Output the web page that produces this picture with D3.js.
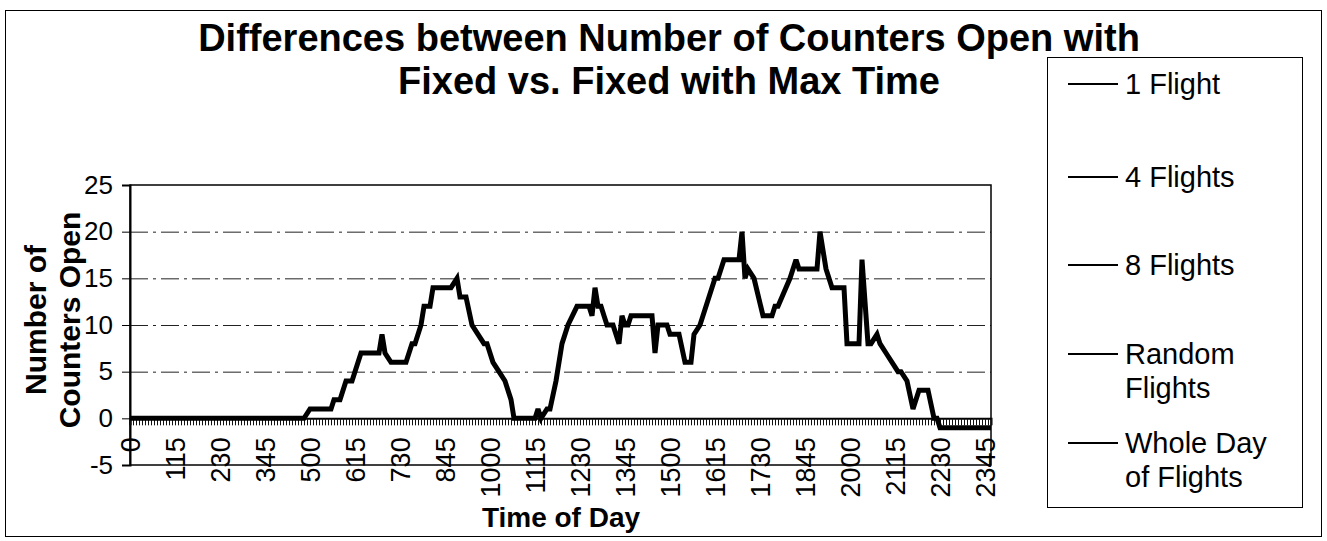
<!DOCTYPE html>
<html>
<head>
<meta charset="utf-8">
<script src="https://cdn.jsdelivr.net/npm/d3@7"></script>
<style>
  html, body { margin: 0; padding: 0; background: #fff; }
  svg { display: block; font-family: Arial, 'Liberation Sans', sans-serif; }
</style>
</head>
<body>
<svg id="chart"></svg>
<script>
// every 5 minutes of the day, written as h*100+m (0, 5, ... 2355)
const categories = d3.range(0, 1440, 5).map(m => Math.floor(m / 60) * 100 + m % 60);

const tickLabels = [0, 115, 230, 345, 500, 615, 730, 845, 1000, 1115, 1230,
  1345, 1500, 1615, 1730, 1845, 2000, 2115, 2230, 2345];

const yTicks = [-5, 0, 5, 10, 15, 20, 25];

// vertices of the plotted line
const lineTimes = [0, 450, 500, 535, 540, 550, 600, 610, 625, 655, 700, 705, 715,
  740, 750, 755, 805, 810, 820, 825, 855, 905, 910, 920, 930, 940, 950, 955,
  1005, 1015, 1025, 1035, 1040, 1115, 1120, 1125, 1135, 1140, 1150, 1200, 1210,
  1225, 1245, 1250, 1255, 1300, 1305, 1310, 1315, 1325, 1335, 1340, 1345, 1350,
  1355, 1430, 1435, 1440, 1455, 1500, 1515, 1525, 1535, 1540, 1550, 1615, 1620,
  1630, 1655, 1700, 1705, 1710, 1720, 1735, 1750, 1755, 1800, 1820, 1830, 1835,
  1905, 1910, 1915, 1920, 1925, 1930, 1950, 1955, 2015, 2020, 2030, 2035, 2045,
  2050, 2100, 2120, 2125, 2135, 2145, 2155, 2210, 2220, 2225, 2230, 2355];

const lineValues = [0, 0, 1, 1, 2, 2, 4, 4, 7, 7, 9, 7, 6,
  6, 8, 8, 10, 12, 12, 14, 14, 15, 13, 13, 10, 9, 8, 8,
  6, 5, 4, 2, 0, 0, 1, 0, 1, 1, 4, 8, 10,
  12, 12, 11, 14, 12, 12, 11, 10, 10, 8, 11, 10, 10,
  11, 11, 7, 10, 10, 9, 9, 6, 6, 9, 10, 15, 15,
  17, 17, 20, 15, 16, 15, 11, 11, 12, 12, 15, 17, 16,
  16, 20, 18, 16, 15, 14, 14, 8, 8, 17, 8, 8, 9,
  8, 7, 5, 5, 4, 1, 3, 3, 0, 0, -1, -1];

const seriesNames = [['1 Flight'], ['4 Flights'], ['8 Flights'],
  ['Random', 'Flights'], ['Whole Day', 'of Flights']];

const W = 1327, H = 541;
const plot = {left: 130, right: 991, top: 185, bottom: 465};

const svg = d3.select('#chart')
  .attr('width', W)
  .attr('height', H);

// outer chart border
svg.append('rect')
  .attr('x', 5.5).attr('y', 10.5)
  .attr('width', 1316).attr('height', 526)
  .style('fill', 'none')
  .style('stroke', '#000')
  .style('stroke-width', 1);

const x = d3.scalePoint()
  .domain(categories)
  .range([plot.left, plot.right]);

const y = d3.scaleLinear()
  .domain([-5, 25])
  .range([plot.bottom, plot.top]);

// gridlines
svg.append('g')
  .selectAll('line')
  .data([5, 10, 15, 20])
  .join('line')
  .attr('x1', plot.left).attr('x2', plot.right)
  .attr('y1', d => y(d) + 0.5).attr('y2', d => y(d) + 0.5)
  .style('stroke', '#222')
  .style('stroke-width', 1)
  .style('stroke-dasharray', '18 5 3 5');

// plot frame
svg.append('rect')
  .attr('x', plot.left).attr('y', plot.top)
  .attr('width', plot.right - plot.left)
  .attr('height', plot.bottom - plot.top)
  .style('fill', 'none')
  .style('stroke', '#000')
  .style('stroke-width', 1.5);

// y axis
const yAxis = svg.append('g')
  .attr('transform', `translate(${plot.left},0)`)
  .call(d3.axisLeft(y).tickValues(yTicks).tickSize(8).tickPadding(9).tickFormat(d => String(d)));
yAxis.select('.domain').style('stroke-width', 2);
yAxis.selectAll('text')
  .style('font-size', '26px')
  .style('fill', '#000');

// category axis crossing at 0, with a tick on every category
const xAxis = svg.append('g')
  .attr('transform', `translate(0,${y(0)})`)
  .call(d3.axisBottom(x).tickValues(categories).tickSize(7).tickFormat(''));
xAxis.select('.domain').style('stroke-width', 2);
xAxis.selectAll('.tick line').style('stroke', '#111').style('stroke-width', 1);

svg.append('g')
  .selectAll('text')
  .data(tickLabels)
  .join('text')
  .attr('transform', d => `translate(${x(d)},${y(0) + 19}) rotate(-90)`)
  .attr('dy', '0.36em')
  .style('text-anchor', 'end')
  .style('font-size', '27px')
  .text(d => d);

// the plotted line
const line = d3.line()
  .x(i => x(lineTimes[i]))
  .y(i => y(lineValues[i]));

svg.append('path')
  .datum(d3.range(lineTimes.length))
  .attr('d', line)
  .style('fill', 'none')
  .style('stroke', '#000')
  .style('stroke-width', 5)
  .style('stroke-linejoin', 'miter')
  .style('stroke-miterlimit', 3);

// title
svg.append('text')
  .attr('x', 669)
  .attr('y', 51)
  .style('text-anchor', 'middle')
  .style('font-size', '38px')
  .style('font-weight', 'bold')
  .selectAll('tspan')
  .data(['Differences between Number of Counters Open with', 'Fixed vs. Fixed with Max Time'])
  .join('tspan')
  .attr('x', 669)
  .attr('dy', (d, i) => i === 0 ? 0 : 43)
  .text(d => d);

// axis titles
svg.append('text')
  .attr('transform', 'translate(46,320) rotate(-90)')
  .style('text-anchor', 'middle')
  .style('font-size', '30px')
  .style('font-weight', 'bold')
  .selectAll('tspan')
  .data(['Number of', 'Counters Open'])
  .join('tspan')
  .attr('x', 0)
  .attr('dy', (d, i) => i === 0 ? 0 : 34)
  .text(d => d);

svg.append('text')
  .attr('x', 561)
  .attr('y', 527)
  .style('text-anchor', 'middle')
  .style('font-size', '28px')
  .style('font-weight', 'bold')
  .text('Time of Day');

// legend
const legendY = [84, 177, 265, 354, 443];

svg.append('rect')
  .attr('x', 1047.5).attr('y', 57.5)
  .attr('width', 255).attr('height', 450)
  .style('fill', 'none')
  .style('stroke', '#000')
  .style('stroke-width', 1);

const legend = svg.append('g')
  .selectAll('g')
  .data(seriesNames)
  .join('g')
  .attr('transform', (d, i) => `translate(0,${legendY[i]})`);

legend.append('line')
  .attr('x1', 1068).attr('x2', 1118)
  .style('stroke', '#000')
  .style('stroke-width', 2);

legend.append('text')
  .style('font-size', '29px')
  .selectAll('tspan')
  .data(d => d)
  .join('tspan')
  .attr('x', 1125)
  .attr('y', (d, i) => i * 34)
  .attr('dy', '0.36em')
  .text(d => d);
</script>
</body>
</html>
